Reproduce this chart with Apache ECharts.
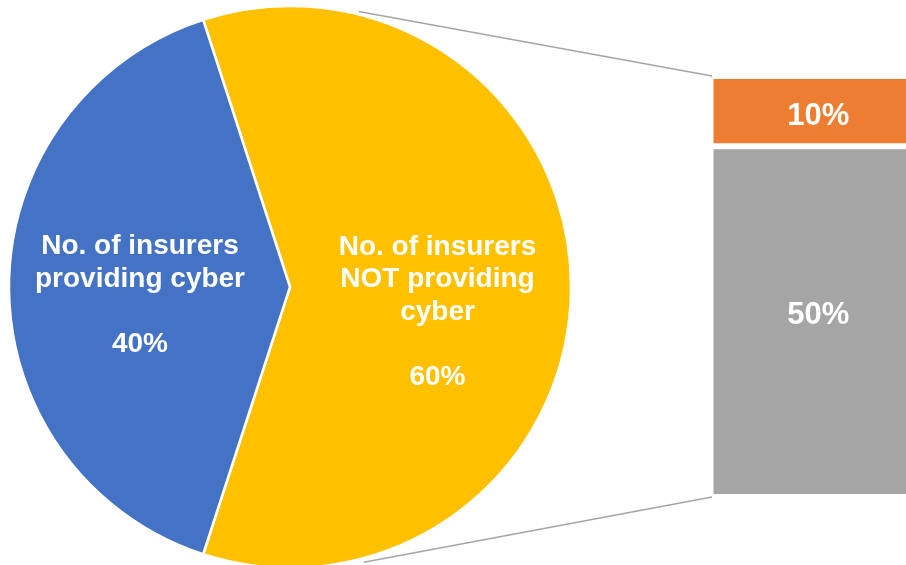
<!DOCTYPE html>
<html>
<head>
<meta charset="utf-8">
<style>
  html, body { margin: 0; padding: 0; background: #ffffff; }
  #chart { width: 906px; height: 565px; }
</style>
<script src="https://cdn.jsdelivr.net/npm/echarts@6/dist/echarts.min.js"></script>
</head>
<body>
<div id="chart"></div>
<script>
// Share of insurers offering cyber cover (pie) and the breakdown of the non-providers (bar)
const pieNames = ['No. of insurers\nNOT providing\ncyber', 'No. of insurers\nproviding cyber'];
const pieValues = [60, 40];
const pieColors = ['#FFC000', '#4472C4'];

const barNames = ['10%', '50%'];
const barValues = [10, 50];       // stacked from the bottom: grey 50, orange 10 on top
const barColors = ['#ED7D31', '#A5A5A5'];

const FONT = '"Liberation Sans", Arial, sans-serif';
const pieCenter = [290, 287];
const pieRadius = 281;
const gridLeft = 710.5;

const chart = echarts.init(document.getElementById('chart'), null, { renderer: 'canvas' });

const option = {
  animation: false,
  backgroundColor: '#ffffff',
  grid: { left: gridLeft, top: 76, bottom: 68, right: -20, outerBoundsMode: 'none', containLabel: false },
  xAxis: { type: 'category', data: ['other'], show: false },
  yAxis: { type: 'value', min: 0, max: 60, show: false },
  series: [
    {
      type: 'pie',
      center: pieCenter,
      radius: pieRadius,
      startAngle: 108,
      clockwise: true,
      silent: true,
      itemStyle: { borderColor: '#ffffff', borderWidth: 2.5 },
      label: {
        show: true,
        position: 'inside',
        color: '#ffffff',
        fontFamily: FONT,
        fontWeight: 'bold',
        fontSize: 28,
        lineHeight: 32.5,
        align: 'center',
        formatter: p => p.name + '\n\n' + p.value + '%'
      },
      labelLayout: p => (p.dataIndex === 0 ? { dx: 4, dy: 25 } : { dx: -6.5, dy: 8.5 }),
      data: pieNames.map((n, i) => ({ name: n, value: pieValues[i], itemStyle: { color: pieColors[i] } }))
    },
    {
      type: 'bar',
      stack: 'rest',
      barWidth: '100%',
      silent: true,
      clip: false,
      itemStyle: { color: barColors[1], borderColor: '#ffffff', borderWidth: 3 },
      label: { show: true, position: 'inside', offset: [0, -6], color: '#ffffff', fontFamily: FONT, fontWeight: 'bold', fontSize: 31, formatter: barNames[1] },
      data: [barValues[1]]
    },
    {
      type: 'bar',
      stack: 'rest',
      barWidth: '100%',
      silent: true,
      clip: false,
      itemStyle: { color: barColors[0], borderColor: '#ffffff', borderWidth: 3 },
      label: { show: true, position: 'inside', offset: [0, 5], color: '#ffffff', fontFamily: FONT, fontWeight: 'bold', fontSize: 31, formatter: barNames[0] },
      data: [barValues[0]]
    }
  ]
};
chart.setOption(option);

// Connector lines from the pie rim to the corners of the stacked bar,
// added straight to the zrender layer so the option is not re-laid out
const total = barValues[0] + barValues[1];
const barTop = chart.convertToPixel({ yAxisIndex: 0 }, total);
const barBottom = chart.convertToPixel({ yAxisIndex: 0 }, 0);
function rimPoint(deg, r) {
  const a = deg * Math.PI / 180;
  return [pieCenter[0] + r * Math.cos(a), pieCenter[1] - r * Math.sin(a)];
}
const p1 = rimPoint(76, pieRadius + 3);
const p2 = rimPoint(-75, pieRadius + 4);
[[p1, barTop], [p2, barBottom]].forEach(([p, y]) => {
  chart.getZr().add(new echarts.graphic.Line({
    silent: true,
    z: 10,
    shape: { x1: p[0], y1: p[1], x2: gridLeft + 1.5, y2: y },
    style: { stroke: '#A5A5A5', lineWidth: 1.5 }
  }));
});
</script>
</body>
</html>
